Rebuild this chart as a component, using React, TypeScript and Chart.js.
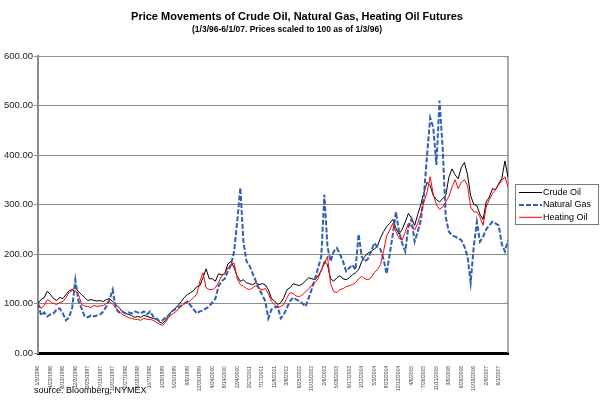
import { useEffect, useRef } from "react";
import { Chart, registerables } from "chart.js";

Chart.register(...registerables);

const FONT = '"Liberation Sans", Arial, Helvetica, sans-serif';

const TITLE = "Price Movements of Crude Oil, Natural Gas, Heating Oil Futures";
const SUBTITLE = "(1/3/96-6/1/07. Prices scaled to 100 as of 1/3/96)";
const SOURCE = "source: Bloomberg, NYMEX";

const TICK_LABELS = [
  "1/3/1996", "4/23/1996", "8/13/1996", "12/3/1996", "3/25/1997", "7/15/1997",
  "10/31/1997", "2/27/1998", "6/18/1998", "10/7/1998", "1/29/1999", "5/20/1999",
  "9/8/1999", "12/30/1999", "4/24/2000", "8/14/2000", "12/4/2000", "3/27/2001",
  "7/17/2001", "11/6/2001", "3/6/2002", "6/25/2002", "10/15/2002", "2/6/2003",
  "5/28/2003", "9/17/2003", "1/12/2004", "5/3/2004", "8/23/2004", "12/13/2004",
  "4/6/2005", "7/26/2005", "11/11/2005", "3/8/2006", "6/28/2006", "10/18/2006",
  "2/9/2007", "6/1/2007",
];

// samples per labelled tick interval
const POINTS_PER_TICK = 4;

const SERIES_NAMES = ["Crude Oil", "Natural Gas", "Heating Oil"];

const CRUDE_OIL = [
  100, 108, 112, 125,
  118, 110, 106, 112,
  110, 118, 126, 128,
  132, 124, 118, 112,
  106, 108, 106, 105,
  106, 104, 108, 110,
  104, 98, 92, 84,
  80, 78, 76, 72,
  74, 72, 76, 74,
  72, 70, 68, 62,
  60, 66, 78, 84,
  90, 96, 104, 112,
  118, 122, 126, 134,
  136, 152, 170, 150,
  150, 145, 160, 158,
  160, 180, 185, 172,
  155, 145, 148, 142,
  140, 138, 142, 138,
  140, 138, 128, 110,
  105, 98, 102, 112,
  128, 132, 140, 138,
  136, 140, 146, 152,
  150, 148, 156, 166,
  185, 178, 150, 145,
  152, 156, 150, 148,
  152, 158, 162, 168,
  185, 195, 202, 205,
  210, 215, 232, 245,
  255, 262, 270, 252,
  240, 250, 265, 282,
  272, 258, 280, 300,
  325, 345, 338, 318,
  310, 305, 312, 318,
  355, 372, 360, 352,
  375, 385, 360, 318,
  300, 298, 280, 270,
  305, 315, 332, 330,
  342, 352, 388, 355,
];

const NATURAL_GAS = [
  100, 76, 82, 74,
  78, 80, 88, 90,
  80, 66, 72, 92,
  148, 105, 90, 74,
  72, 76, 74, 76,
  78, 84, 95, 108,
  128, 90, 82, 84,
  80, 82, 80, 84,
  82, 80, 84, 78,
  84, 74, 70, 64,
  66, 72, 76, 84,
  88, 92, 96, 100,
  104, 96, 88, 80,
  84, 86, 90, 94,
  102, 110, 135, 145,
  150, 165, 178, 205,
  265, 334, 225, 185,
  176, 160, 145, 130,
  118, 105, 70, 88,
  92, 94, 70, 78,
  92, 105, 112, 108,
  105, 100, 94, 112,
  130, 150, 172, 195,
  320, 215, 185, 205,
  212, 200, 185, 165,
  172, 178, 168, 240,
  195, 185, 190, 205,
  222, 215, 210, 190,
  160, 200, 240, 285,
  245, 222, 205, 255,
  270, 225, 245, 268,
  320, 400, 475, 455,
  380, 510, 415, 275,
  245, 238, 235, 232,
  228, 215, 195, 142,
  215, 265, 225, 235,
  250, 258, 265, 262,
  258, 220, 205, 228,
];

const HEATING_OIL = [
  100, 90, 96, 108,
  104, 100, 98, 102,
  104, 112, 122, 126,
  126, 118, 98, 95,
  94, 92, 96, 94,
  95, 96, 100, 104,
  98, 92, 84, 78,
  75, 72, 70, 68,
  68, 66, 70, 68,
  68, 66, 62, 58,
  56, 62, 72, 78,
  82, 88, 94, 100,
  102, 106, 112, 118,
  145, 162, 132, 128,
  128, 132, 142, 156,
  160, 172, 178, 182,
  150, 138, 135, 130,
  128, 132, 136, 130,
  128, 130, 120, 105,
  98, 92, 94, 98,
  112, 122, 120, 115,
  114, 118, 124, 130,
  138, 142, 150, 168,
  180, 195, 140, 124,
  122, 128, 130, 134,
  136, 138, 142, 150,
  155, 150, 148, 152,
  162, 168, 178, 205,
  236, 248, 262, 245,
  232, 228, 245, 262,
  255, 248, 262, 282,
  305, 325, 356, 320,
  300, 290, 295, 305,
  316, 335, 350, 332,
  345, 350, 338, 295,
  285, 285, 275, 258,
  295, 310, 322, 330,
  340, 348, 356, 336,
];

const toPoints = (values: number[]) =>
  values.map((y, i) => ({ x: i / POINTS_PER_TICK, y }));

const decorPlugin = {
  id: "decor",
  beforeDatasetsDraw(chart: any) {
    const { ctx, chartArea } = chart;
    ctx.save();
    ctx.strokeStyle = "#8c8c8c";
    ctx.lineWidth = 1.5;
    ctx.beginPath();
    ctx.moveTo(chartArea.right, chartArea.top);
    ctx.lineTo(chartArea.right, chartArea.bottom);
    ctx.stroke();
    ctx.restore();
  },
  afterDraw(chart: any) {
    const ctx: CanvasRenderingContext2D = chart.ctx;
    ctx.save();
    ctx.fillStyle = "#000";
    ctx.textAlign = "center";
    ctx.textBaseline = "middle";
    ctx.font = `bold 11px ${FONT}`;
    ctx.fillText(TITLE, 297, 17);
    ctx.font = `bold 8.5px ${FONT}`;
    ctx.fillText(SUBTITLE, 287, 30);
    ctx.textAlign = "left";
    ctx.font = `9px ${FONT}`;
    ctx.fillText(SOURCE, 34, 391);

    // legend
    const bx = 515, by = 184, bw = 83, bh = 40;
    ctx.fillStyle = "#fff";
    ctx.fillRect(bx, by, bw, bh);
    ctx.strokeStyle = "#7a7a7a";
    ctx.lineWidth = 1;
    ctx.strokeRect(bx + 0.5, by + 0.5, bw, bh);
    chart.data.datasets.forEach((ds: any, i: number) => {
      const y = by + 8.5 + i * 12.4;
      ctx.save();
      ctx.strokeStyle = ds.borderColor;
      ctx.lineWidth = ds.borderWidth;
      ctx.setLineDash(ds.borderDash || []);
      ctx.beginPath();
      ctx.moveTo(bx + 4, y);
      ctx.lineTo(bx + 27, y);
      ctx.stroke();
      ctx.restore();
      ctx.fillStyle = "#000";
      ctx.font = `9px ${FONT}`;
      ctx.textAlign = "left";
      ctx.textBaseline = "middle";
      ctx.fillText(ds.label, bx + 28, y);
    });
    ctx.restore();
  },
};

export default function App() {
  const canvasRef = useRef<HTMLCanvasElement | null>(null);

  useEffect(() => {
    const canvas = canvasRef.current;
    if (!canvas) return;
    Chart.defaults.font.family = FONT;
    const chart = new Chart(canvas, {
      type: "line",
      data: {
        datasets: [
          {
            label: SERIES_NAMES[0],
            data: toPoints(CRUDE_OIL),
            borderColor: "#000000",
            borderWidth: 1,
            pointRadius: 0,
            tension: 0,
            order: 3,
          },
          {
            label: SERIES_NAMES[1],
            data: toPoints(NATURAL_GAS),
            borderColor: "#2f5fb3",
            borderWidth: 2,
            borderDash: [5, 2],
            pointRadius: 0,
            tension: 0,
            order: 2,
          },
          {
            label: SERIES_NAMES[2],
            data: toPoints(HEATING_OIL),
            borderColor: "#ff0000",
            borderWidth: 1,
            pointRadius: 0,
            tension: 0,
            order: 1,
          },
        ],
      },
      options: {
        responsive: false,
        animation: false,
        events: [],
        layout: { padding: { top: 56, right: 92, left: 0, bottom: 0 } },
        plugins: {
          legend: { display: false },
          title: { display: false },
          tooltip: { enabled: false },
        },
        scales: {
          x: {
            type: "linear",
            min: 0,
            max: (CRUDE_OIL.length - 1) / POINTS_PER_TICK,
            afterFit: (s: any) => {
              s.height = 47;
            },
            grid: { display: false },
            border: { display: true, color: "#000000", width: 3 },
            ticks: {
              stepSize: 1,
              autoSkip: false,
              includeBounds: false,
              maxRotation: 90,
              minRotation: 90,
              padding: 5,
              color: "#444",
              font: { size: 5, family: FONT },
              callback: (v: any) => TICK_LABELS[v as number] ?? "",
            },
          },
          y: {
            min: 0,
            max: 600,
            afterFit: (s: any) => {
              s.width = 38;
            },
            grid: { color: "#8c8c8c", lineWidth: 1, tickLength: 4 },
            border: { color: "#8c8c8c", width: 2 },
            ticks: {
              stepSize: 100,
              padding: 1,
              color: "#222",
              font: { size: 9.5, family: FONT },
              callback: (v: any) => Number(v).toFixed(2),
            },
          },
        },
      },
      plugins: [decorPlugin],
    });
    return () => chart.destroy();
  }, []);

  return (
    <div style={{ position: "absolute", left: 0, top: 0, width: 600, height: 400, background: "#fff" }}>
      <canvas ref={canvasRef} width={600} height={400} />
    </div>
  );
}
